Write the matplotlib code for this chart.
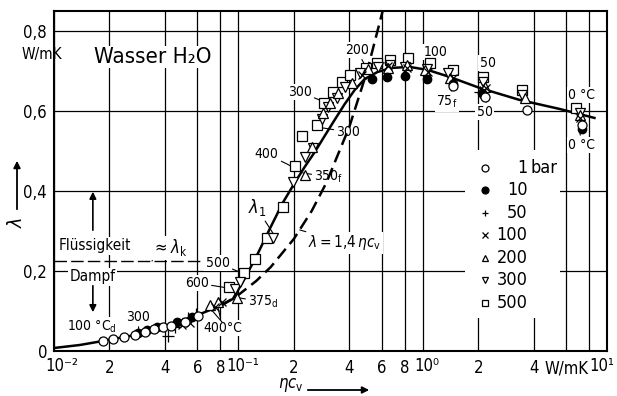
import numpy as np
import matplotlib
matplotlib.use("Agg")
import matplotlib.pyplot as plt
from matplotlib.ticker import FixedLocator, FixedFormatter, NullFormatter
from matplotlib.patches import Rectangle, FancyArrowPatch

plt.rcParams['font.family'] = ['DejaVu Sans']
plt.rcParams['font.stretch'] = 'condensed'
plt.rcParams['mathtext.fontset'] = 'dejavusans'

p1_x = [0.0184, 0.0209, 0.0240, 0.0275, 0.0311, 0.0348, 0.0390, 0.0431, 0.0513, 0.0603, 1.454, 2.168, 3.66, 7.36]
p1_y = [0.025, 0.030, 0.035, 0.040, 0.0475, 0.055, 0.060, 0.0625, 0.0725, 0.0875, 0.6625, 0.635, 0.6025, 0.565]

p10_x = [0.0285, 0.0319, 0.0362, 0.0464, 0.056, 0.529, 0.638, 0.799, 1.051, 1.454, 2.088, 7.3]
p10_y = [0.045, 0.0525, 0.060, 0.0725, 0.085, 0.680, 0.685, 0.6875, 0.680, 0.6675, 0.645, 0.555]

p50_x = [0.0415, 0.0453, 0.0532, 0.0588, 2.04]
p50_y = [0.0375, 0.060, 0.0825, 0.0925, 0.6475]

p100_x = [0.0494, 0.0546, 0.0746, 0.0814, 0.467, 0.646, 0.819, 1.064, 1.454, 2.195, 7.1]
p100_y = [0.065, 0.070, 0.110, 0.1225, 0.690, 0.7125, 0.7075, 0.6975, 0.6825, 0.6575, 0.5825]

p200_x = [0.0701, 0.0774, 0.0982, 0.229, 0.250, 0.287, 0.313, 0.346, 0.412, 0.504, 0.646, 0.819, 1.025, 1.401, 2.168, 3.57, 7.1]
p200_y = [0.115, 0.1225, 0.1325, 0.440, 0.510, 0.595, 0.620, 0.645, 0.670, 0.705, 0.7075, 0.715, 0.7025, 0.6825, 0.660, 0.6325, 0.590]

p300_x = [0.0957, 0.102, 0.154, 0.197, 0.229, 0.254, 0.284, 0.306, 0.342, 0.378, 0.456, 0.570, 0.663, 0.799, 1.051, 1.366, 2.114, 3.48, 7.1]
p300_y = [0.155, 0.1725, 0.2825, 0.4225, 0.485, 0.5075, 0.580, 0.610, 0.6325, 0.660, 0.695, 0.710, 0.715, 0.710, 0.705, 0.695, 0.6725, 0.640, 0.595]

p500_x = [0.0888, 0.107, 0.123, 0.143, 0.174, 0.202, 0.221, 0.266, 0.290, 0.325, 0.364, 0.402, 0.491, 0.563, 0.663, 0.830, 1.091, 1.454, 2.113, 3.44, 6.83]
p500_y = [0.160, 0.195, 0.230, 0.2825, 0.360, 0.4625, 0.5375, 0.565, 0.620, 0.6475, 0.6725, 0.690, 0.7075, 0.720, 0.7275, 0.7325, 0.720, 0.7025, 0.685, 0.6525, 0.6075]

# Ausgleichskurve lambda_1
lam1_x = [0.0100, 0.0138, 0.0184, 0.0258, 0.0331, 0.0453, 0.0603, 0.0746, 0.0934, 0.108, 0.128, 0.148, 0.174, 0.202,
          0.229, 0.260, 0.294, 0.333, 0.378, 0.428, 0.485, 0.570, 0.679, 0.850, 1.064, 1.401, 2.037, 3.356, 5.527, 8.55]
lam1_y = [0.0075, 0.015, 0.025, 0.0375, 0.050, 0.070, 0.090, 0.1075, 0.130, 0.180, 0.245, 0.305, 0.370, 0.420,
          0.460, 0.4975, 0.5375, 0.5775, 0.6175, 0.6525, 0.680, 0.6975, 0.7075, 0.710, 0.7025, 0.685, 0.6575, 0.6275, 0.605, 0.5825]

# Gerade lambda = 1,4 eta c_v
dash_x = [0.080, 0.100, 0.125, 0.150, 0.200, 0.250, 0.300, 0.400, 0.500, 0.610]
dash_y = [0.112, 0.140, 0.175, 0.210, 0.280, 0.350, 0.420, 0.560, 0.700, 0.854]

lamk = 0.225
lamk_x = [0.01, 0.063]

leg_labels = ['1', '10', '50', '100', '200', '300', '500']
dec_labels = ['10⁻²', '10⁻¹', '10⁰', '10¹']

fig = plt.figure(figsize=(6.17, 3.96), dpi=100)
ax = fig.add_axes([54/617, 45/396, 553/617, 340.5/396])
ax.set_xscale('log')
ax.set_xlim(0.01, 10)
ax.set_ylim(0, 0.851)
ax.set_axisbelow(True)

for s in ax.spines.values():
    s.set_linewidth(1.5)

# Achsen / Gitter
maj = [0.01, 0.1, 1, 10]
mino = [2e-2, 4e-2, 6e-2, 8e-2, 2e-1, 4e-1, 6e-1, 8e-1, 2, 4, 6, 8]
ax.xaxis.set_major_locator(FixedLocator(maj))
ax.xaxis.set_major_formatter(NullFormatter())
ax.xaxis.set_minor_locator(FixedLocator(mino))
ax.xaxis.set_minor_formatter(FixedFormatter(['2', '4', '6', '8', '2', '4', '6', '8', '2', '4', 'W/mK', '']))
ax.set_yticks([0, 0.2, 0.4, 0.6, 0.8])
ax.set_yticklabels(['0', '0,2', '0,4', '0,6', '0,8'])
ax.tick_params(which='both', length=0, labelsize=12)
ax.tick_params(axis='x', which='minor', pad=6)
ax.tick_params(axis='y', pad=5)
ax.grid(True, which='both', axis='x', color='black', lw=0.9)
ax.grid(True, which='major', axis='y', color='black', lw=0.9)

# Dekaden-Beschriftung: "10" auf der Gitterlinie, Exponent rechts daneben
xt = ax.get_xaxis_transform()
shift = [1.10, 1.05, 1.05, 1.09]
for i, (xv, lab) in enumerate(zip(maj, dec_labels)):
    ha = 'right' if i == len(maj) - 1 else 'center'
    ax.text(xv * shift[i], -0.017, lab, transform=xt, ha=ha, va='top', fontsize=12, clip_on=False)

# Kurven
ax.plot(lam1_x, lam1_y, color='black', lw=1.8, zorder=3)
ax.plot(dash_x, dash_y, color='black', lw=1.8, ls=(0, (5, 2.5)), zorder=3)
ax.plot(lamk_x, [lamk, lamk], color='black', lw=1.0, ls=(0, (9, 3)), zorder=3)

# Messpunkte
mk = dict(ls='none', mfc='white', mec='black', mew=0.9, zorder=4)
ax.plot(p500_x, p500_y, marker='s', ms=7, **mk)
ax.plot(p300_x, p300_y, marker='v', ms=7, **mk)
ax.plot(p200_x, p200_y, marker='^', ms=7, **mk)
ax.plot(p100_x, p100_y, marker='x', ms=6, ls='none', color='black', mew=0.9, zorder=5)
ax.plot(p50_x, p50_y, marker='+', ms=8, ls='none', color='black', mew=0.9, zorder=5)
ax.plot(p10_x, p10_y, marker='o', ms=6, ls='none', color='black', zorder=5)
ax.plot(p1_x, p1_y, marker='o', ms=6.5, **{**mk, 'zorder': 6})

# Legende
ax.add_patch(Rectangle((1.69, 0.082), 5.53 - 1.69, 0.42, facecolor='white', edgecolor='none', zorder=1))
leg_markers = [('o', 'white'), ('o', 'black'), ('+', 'black'), ('x', 'black'), ('^', 'white'), ('v', 'white'), ('s', 'white')]
for i, (lab, (m, fc)) in enumerate(zip(leg_labels, leg_markers)):
    yy = 0.4575 - i * 0.05625
    ax.plot([2.17], [yy], marker=m, ms=5, mfc=fc, mec='black', color='black', mew=0.9, ls='none', zorder=4)
    ax.text(3.71, yy, lab, ha='right', va='center', fontsize=13, zorder=4)
    if i == 0:
        ax.text(3.85, yy, 'bar', ha='left', va='center', fontsize=13, zorder=4)

# Texte
wb = dict(facecolor='white', edgecolor='none', pad=1.0)
ax.text(0.0165, 0.735, 'Wasser H₂O', fontsize=16, ha='left', va='center', bbox=wb, zorder=2)
ax.text(0.01667, 0.2625, 'Flüssigkeit', fontsize=11, ha='center', va='center', bbox=wb, zorder=2)
ax.text(0.01625, 0.185, 'Dampf', fontsize=11, ha='center', va='center', bbox=wb, zorder=2)
ax.annotate('', xy=(0.01625, 0.405), xytext=(0.01625, 0.295),
            arrowprops=dict(arrowstyle='-|>', color='black', lw=1.2, mutation_scale=10))
ax.annotate('', xy=(0.01625, 0.09), xytext=(0.01625, 0.17),
            arrowprops=dict(arrowstyle='-|>', color='black', lw=1.2, mutation_scale=10))

lead = dict(arrowstyle='-', color='black', lw=0.8, shrinkA=1, shrinkB=0)
labels = [
    ('300', (0.2155, 0.6475), (0.3018, 0.62), 10),
    ('300', (0.395, 0.5475), (0.287, 0.5575), 10),
    ('400', (0.1427, 0.4925), (0.1974, 0.46), 10),
    ('350$_\\mathrm{f}$', (0.31, 0.435), (0.2237, 0.445), 10),
    ('200', (0.4387, 0.7525), (0.4788, 0.72), 10),
    ('100', (1.176, 0.7475), (1.064, 0.7225), 10),
    ('75$_\\mathrm{f}$', (1.349, 0.6225), (1.454, 0.6575), 10),
    ('50', (2.25, 0.72), (2.168, 0.685), 10),
    ('50', (2.168, 0.5975), (2.223, 0.63), 10),
    ('0 °C', (7.275, 0.64), (6.92, 0.6125), 10),
    ('0 °C', (7.275, 0.515), (7.1, 0.5525), 10),
    ('500', (0.0774, 0.22), (0.1045, 0.195), 10),
    ('600', (0.0596, 0.17), (0.0877, 0.1575), 10),
    ('375$_\\mathrm{d}$', (0.137, 0.1225), (0.102, 0.1325), 10),
    ('400°C', (0.0824, 0.0575), (0.0774, 0.11), 10),
    ('300', (0.0285, 0.085), (0.0289, 0.045), 10),
    ('100 °C$_\\mathrm{d}$', (0.0161, 0.06), (0.0184, 0.0275), 10),
    ('$\\lambda_1$', (0.1259, 0.3575), (0.1538, 0.295), 13),
    ('$\\lambda = 1{,}4\\,\\eta c_\\mathrm{v}$', (0.378, 0.27), (0.2155, 0.3025), 11),
    ('$\\approx\\lambda_\\mathrm{k}$', (0.0426, 0.2575), (0.034, 0.225), 12),
]
for txt, pos, tgt, fs in labels:
    ax.annotate(txt, xy=tgt, xytext=pos, fontsize=fs, ha='center', va='center',
                arrowprops=lead, bbox=wb, zorder=2)
ax.annotate('', xy=(0.0701, 0.1075), xytext=(0.0824, 0.07), arrowprops=lead)

# Achsenbeschriftung
fig.text(62/617, 1 - 55/396, 'W/mK', fontsize=11, ha='right', va='center')
fig.text(291/617, 1.5/396, '$\\eta c_\\mathrm{v}$', fontsize=12, ha='center', va='bottom')
fig.add_artist(FancyArrowPatch((305/617, 1 - 390/396), (372/617, 1 - 390/396),
               transform=fig.transFigure, arrowstyle='-|>', mutation_scale=10, color='black', lw=1.3))
fig.text(17/617, 1 - 222/396, '$\\lambda$', fontsize=14, ha='center', va='center', rotation=90)
fig.add_artist(FancyArrowPatch((17/617, 1 - 212/396), (17/617, 1 - 158/396),
               transform=fig.transFigure, arrowstyle='-|>', mutation_scale=10, color='black', lw=1.3))

fig.savefig('out.png', dpi=100)
